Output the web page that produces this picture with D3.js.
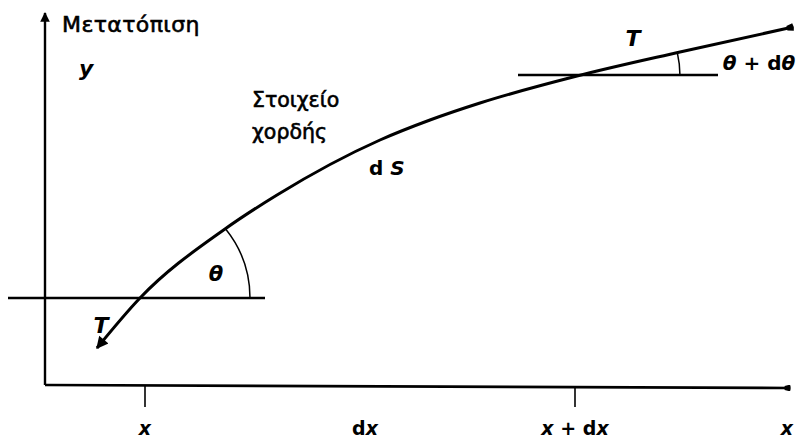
<!DOCTYPE html>
<html><head><meta charset="utf-8">
<script src="https://cdn.jsdelivr.net/npm/d3@7"></script>
<style>
html,body{margin:0;padding:0;background:#fff;}
svg text{font-family:"DejaVu Sans",sans-serif;fill:#000;}
</style></head>
<body><svg id="c" width="796" height="439"></svg>
<script>
// string element curve (units: x right, y up)
const curveX = [52, 95, 180, 232, 335, 385, 435, 532, 635, 748];
const curveY = [37, 87, 156, 190, 245, 265, 282, 309, 333, 358];
// tick positions and labels on x axis
const tickPos = [100, 530];
const xLabels = ["x", "dx", "x + dx", "x"];
const xLabelPos = [100, 320, 530, 742];
// horizontal reference lines at the two ends of the element
const hLineX1 = [-37, 473];
const hLineX2 = [220, 673];
const hLineY = [87, 310];
// angle arcs (centre index into curve, radius px, angle deg)
const arcCentreIdx = [1, 7];
const arcRadius = [110, 103];
const arcAngle = [38.7, 13];
const angleLabels = ["θ", "θ + dθ"];

const x = d3.scaleLinear().domain([0, 750]).range([45, 795]);
const y = d3.scaleLinear().domain([0, 380]).range([385, 5]);
const svg = d3.select("#c");

const defs = svg.append("defs");
defs.append("marker").attr("id","ah").attr("viewBox","0 0 10 10").attr("refX",9).attr("refY",5)
  .attr("markerWidth",5).attr("markerHeight",4).attr("markerUnits","strokeWidth").attr("orient","auto-start-reverse")
  .append("path").attr("d","M0,0 L10,5 L0,10 Z").attr("fill","#000");
defs.append("marker").attr("id","blob").attr("viewBox","0 0 10 10").attr("refX",8).attr("refY",5)
  .attr("markerWidth",4).attr("markerHeight",2.6).attr("markerUnits","strokeWidth").attr("orient","auto")
  .append("path").attr("d","M0,2 L8,0 Q10,5 8,10 L0,8 Z").attr("fill","#000");

// axes
svg.append("line").attr("x1", x(0)).attr("y1", y(0)).attr("x2", x(0)).attr("y2", y(372))
  .attr("stroke","#000").attr("stroke-width",2.4).attr("marker-end","url(#ah)");
svg.append("line").attr("x1", x(0)).attr("y1", y(0)).attr("x2", x(745)).attr("y2", y(-3))
  .attr("stroke","#000").attr("stroke-width",2.6).attr("marker-end","url(#blob)");
tickPos.forEach(t => {
  svg.append("line").attr("x1", x(t)).attr("x2", x(t)).attr("y1", y(-1)).attr("y2", y(-22))
    .attr("stroke","#000").attr("stroke-width",1.6);
});
xLabels.forEach((l, i) => {
  const g = svg.append("text").attr("x", x(xLabelPos[i])).attr("y", 435)
    .attr("text-anchor","middle").attr("font-size",19).attr("font-weight","bold");
  const parts = l.split(" ");
  parts.forEach((p, j) => {
    if (j > 0) g.append("tspan").text(" ");
    if (p === "dx") { g.append("tspan").text("d"); g.append("tspan").attr("font-style","italic").text("x"); }
    else if (p === "x") g.append("tspan").attr("font-style","italic").text("x");
    else g.append("tspan").text(p);
  });
});

// horizontal reference lines
hLineY.forEach((hy, i) => {
  svg.append("line").attr("x1", x(hLineX1[i])).attr("x2", x(hLineX2[i])).attr("y1", y(hy)).attr("y2", y(hy))
    .attr("stroke","#000").attr("stroke-width",2.6);
});

// the curve
const pts = curveX.map((v, i) => [v, curveY[i]]);
const line = d3.line().x(d => x(d[0])).y(d => y(d[1])).curve(d3.curveMonotoneX);
svg.append("path").attr("d", line(pts)).attr("fill","none").attr("stroke","#000").attr("stroke-width",3)
  .attr("marker-start","url(#ah)").attr("marker-end","url(#blob)");

// angle arcs
arcCentreIdx.forEach((ci, i) => {
  const cx = x(curveX[ci]), cy = y(curveY[ci]);
  const p = d3.path();
  const a = -arcAngle[i] * Math.PI / 180;
  p.moveTo(cx + arcRadius[i], cy);
  p.arc(cx, cy, arcRadius[i], 0, a, true);
  svg.append("path").attr("d", p.toString()).attr("fill","none").attr("stroke","#000").attr("stroke-width",1.5);
});
svg.append("text").attr("x", 216).attr("y", 281).attr("text-anchor","middle").attr("font-size",21)
  .attr("font-style","italic").attr("font-weight","bold").text(angleLabels[0]);
const t2 = svg.append("text").attr("x", 759).attr("y", 70).attr("text-anchor","middle").attr("font-size",20).attr("font-weight","bold");
t2.append("tspan").attr("font-style","italic").text("θ");
t2.append("tspan").text(" + d");
t2.append("tspan").attr("font-style","italic").text("θ");

// labels
const heavy = sel => sel.attr("stroke","#000").attr("stroke-width",0.6);
heavy(svg.append("text").attr("x", 62).attr("y", 32).attr("font-size",22).attr("letter-spacing",0.4).text("Μετατόπιση"));
svg.append("text").attr("x", 79).attr("y", 76).attr("font-size",22).attr("font-style","italic").attr("font-weight","bold").text("y");
heavy(svg.append("text").attr("x", 252).attr("y", 107).attr("font-size",20.5).text("Στοιχείο"));
heavy(svg.append("text").attr("x", 252).attr("y", 139).attr("font-size",20.5).text("χορδής"));
const ds = svg.append("text").attr("x", 369).attr("y", 175).attr("font-size",20).attr("font-weight","bold");
ds.append("tspan").text("d ");
ds.append("tspan").attr("font-style","italic").text("S");
svg.append("text").attr("x", 101).attr("y", 333).attr("text-anchor","middle").attr("font-size",22).attr("font-style","italic").attr("font-weight","bold").text("T");
svg.append("text").attr("x", 633).attr("y", 46).attr("text-anchor","middle").attr("font-size",22).attr("font-style","italic").attr("font-weight","bold").text("T");
</script></body></html>
